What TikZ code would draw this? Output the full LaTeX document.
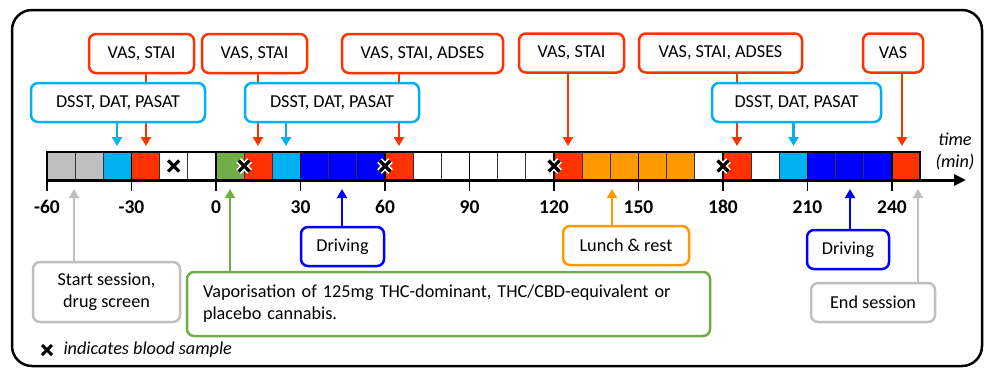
\documentclass[tikz,border=0pt]{standalone}
\usepackage{fontspec}
\setmainfont{Carlito}
\usetikzlibrary{arrows.meta}
\definecolor{cred}{RGB}{255,51,0}
\definecolor{clblue}{RGB}{0,176,240}
\definecolor{cdblue}{RGB}{0,0,255}
\definecolor{cgreen}{RGB}{112,173,71}
\definecolor{corange}{RGB}{255,153,0}
\definecolor{cgrey}{RGB}{191,191,191}
\tikzset{
  lbl/.style={font=\fontsize{18.2}{22}\selectfont},
  tbox/.style={draw, line width=2.5pt, rounded corners=7pt, fill=white, inner sep=0pt, lbl, minimum height=39pt, align=center},
  conn/.style={line width=2.5pt, -{Triangle[length=9pt,width=10pt]}},
  ticklbl/.style={font=\fontsize{19.5}{20}\selectfont\bfseries},
  xw/.style={white, line width=6.5pt},
  xb/.style={black, line width=3.2pt},
}
\begin{document}
\begin{tikzpicture}[x=1pt,y=-1pt]
\useasboundingbox (0,0) rectangle (984,368);
% frame
\draw[line width=2.5pt, rounded corners=20pt] (12,10) rectangle (982,366);

% cells
\foreach \c [count=\i from 0] in {cgrey,cgrey,clblue,cred,white,white,cgreen,cred,clblue,cdblue,cdblue,cdblue,cred,white,white,white,white,white,cred,corange,corange,corange,corange,white,cred,white,clblue,cdblue,cdblue,cdblue,cred}{
  \pgfmathsetmacro\xa{47+28.1667*\i}
  \pgfmathsetmacro\xbb{\xa+28.1667}
  \fill[\c] (\xa,152) rectangle (\xbb,180);
}
\foreach \i in {1,...,30}{
  \pgfmathsetmacro\xa{47+28.1667*\i}
  \draw[black!80, line width=1.3pt] (\xa,152) -- (\xa,180);
}
\draw[line width=2pt] (47,152) rectangle (920,180);

% axis
\coordinate (ax0) at (47,180);
\coordinate (ax1) at (966,180);
\draw[line width=3pt, -{Triangle[length=12pt,width=11pt]}] (ax0) -- (ax1);
\foreach \t in {-60,-30,...,240}{
  \pgfmathsetmacro\xt{216+2.8167*\t}
  \draw[line width=1.8pt] (\xt,152) -- (\xt,191);
  \node[ticklbl] (t\t) at (\xt,207) {\t};
}
\node[lbl, font=\fontsize{18.2}{22}\selectfont\itshape, align=center] (time) at (955,151) {time\\(min)};

% blood sample crosses
\foreach \xx in {173.7,244.2,385,554,723}{
  \draw[xw] (\xx-5.5,160.5) -- (\xx+5.5,171.5) (\xx-5.5,171.5) -- (\xx+5.5,160.5);
  \draw[xb] (\xx-5.5,160.5) -- (\xx+5.5,171.5) (\xx-5.5,171.5) -- (\xx+5.5,160.5);
}

% top arrow targets
\coordinate (ar1) at (146,146);
\coordinate (ar2) at (258,146);
\coordinate (ar3) at (399,146);
\coordinate (ar4) at (568,146);
\coordinate (ar5) at (737,146);
\coordinate (ar6) at (902,146);
\coordinate (ab1) at (117,146);
\coordinate (ab2) at (286,146);
\coordinate (ab3) at (793.5,146);

% red boxes
\node[tbox, draw=cred, minimum width=105pt] (r1) at (141.5,53.5) {VAS, STAI};
\node[tbox, draw=cred, minimum width=105pt] (r2) at (254.5,53.5) {VAS, STAI};
\node[tbox, draw=cred, minimum width=161pt] (r3) at (422.5,53.5) {VAS, STAI, ADSES};
\node[tbox, draw=cred, minimum width=105pt] (r4) at (571.5,53) {VAS, STAI};
\node[tbox, draw=cred, minimum width=163pt] (r5) at (720.5,53) {VAS, STAI, ADSES};
\node[tbox, draw=cred, minimum width=60pt] (r6) at (893,53) {VAS};
\foreach \n in {1,...,6}{
  \draw[conn, cred] (r\n.south -| ar\n) -- (ar\n);
}

% light blue boxes
\node[tbox, draw=clblue, minimum width=174pt] (b1) at (118,102.5) {DSST, DAT, PASAT};
\node[tbox, draw=clblue, minimum width=174pt] (b2) at (332,102.5) {DSST, DAT, PASAT};
\node[tbox, draw=clblue, minimum width=169pt] (b3) at (796.5,102.5) {DSST, DAT, PASAT};
\foreach \n in {1,2,3}{
  \draw[conn, clblue] (b\n.south -| ab\n) -- (ab\n);
}

% bottom boxes
\node[tbox, draw=cgrey, minimum width=147pt, minimum height=60pt] (s1) at (106.5,292) {Start session,\\drug screen};
\node[tbox, draw=cgreen, text width=491pt, inner xsep=16pt, minimum height=64pt, align=left] (g1) at (448.5,304) {Vaporisation of 125mg THC-dominant, THC/CBD-equivalent or\\placebo cannabis.};
\node[tbox, draw=cdblue, minimum width=83pt] (d1) at (342.5,246.5) {Driving};
\node[tbox, draw=corange, minimum width=126pt] (l1) at (626,245.5) {Lunch \& rest};
\node[tbox, draw=cdblue, minimum width=82pt] (d2) at (848,249.5) {Driving};
\node[tbox, draw=cgrey, minimum width=124pt] (e1) at (873,302.5) {End session};

\coordinate (us1) at (74,189);
\coordinate (ug1) at (230,189);
\coordinate (ud1) at (342,189);
\coordinate (ul1) at (612,189);
\coordinate (ud2) at (850,189);
\coordinate (ue1) at (918,189);
\draw[conn, cgrey] (s1.north -| us1) -- (us1);
\draw[conn, cgreen] (g1.north -| ug1) -- (ug1);
\draw[conn, cdblue] (d1.north -| ud1) -- (ud1);
\draw[conn, corange] (l1.north -| ul1) -- (ul1);
\draw[conn, cdblue] (d2.north -| ud2) -- (ud2);
\draw[conn, cgrey] (e1.north -| ue1) -- (ue1);

% legend
\draw[xb, line width=3pt] (42,345) -- (52,355) (42,355) -- (52,345);
\node[lbl, font=\fontsize{18.2}{22}\selectfont\itshape, anchor=west] (leg) at (60,350) {indicates blood sample};
\end{tikzpicture}
\end{document}
